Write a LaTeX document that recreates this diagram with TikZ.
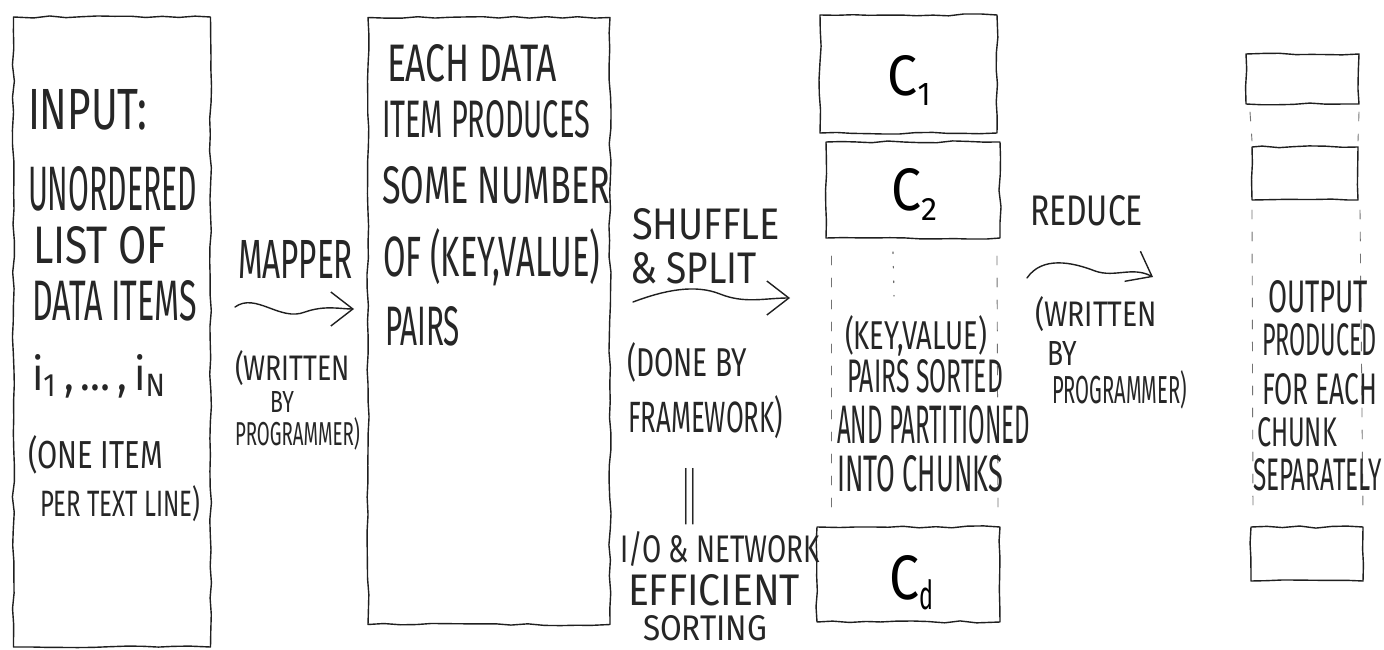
\documentclass[tikz,border=0pt]{standalone}
\usepackage{fontspec}
\usepackage{graphicx}
\setmainfont{Fira Sans}
\usetikzlibrary{arrows.meta,decorations.pathmorphing,calc}

% a word written at a fixed width and cap height
\newcommand{\handword}[3]{\resizebox{#1pt}{#2pt}{#3}}

\begin{document}
\begin{tikzpicture}[x=1pt,y=-1pt,
  ink/.style={draw=black!88, line width=1.4pt, line join=round, line cap=round},
  sketchbox/.style={ink, rectangle, inner sep=0pt, outer sep=0pt,
    decorate, decoration={random steps, segment length=16pt, amplitude=1.1pt}},
  handtext/.style={inner sep=0pt, outer sep=0pt, anchor=base west, text=black!85},
  flow/.style={ink, -{Straight Barb[length=22pt,width=34pt,line width=1.4pt]}},
  faint/.style={draw=black!55, line width=0.9pt, line cap=round, dash pattern=on 9pt off 13pt},
  dots/.style={draw=black!60, line width=1.2pt, line cap=round, dash pattern=on 1.5pt off 13pt},
]
\pgfmathsetseed{11}
\fill[white] (0,0) rectangle (1384,650);
\useasboundingbox (0,0) rectangle (1384,650);

% ---------- input list ----------
\node[sketchbox, minimum width=197pt, minimum height=630pt] (input) at (112,332) {};
\node[handtext] (in1) at (28,130) {\handword{119}{40}{INPUT:}};
\node[handtext] (in2) at (28,210) {\handword{169}{44}{UNORDERED}};
\node[handtext] (in3) at (33,263) {\handword{134}{37}{LIST OF}};
\node[handtext] (in4) at (32,320) {\handword{165}{40}{DATA ITEMS}};
\node[handtext] (in5) at (32,390) {\handword{135}{36}{i\textsubscript{1}\,,\,\ldots\,,\,i\textsubscript{N}}};
\node[handtext] (in6) at (28,468) {\handword{135}{33}{(ONE ITEM}};
\node[handtext] (in7) at (40,516) {\handword{160}{31}{PER TEXT LINE)}};

% ---------- mapper ----------
\node[handtext] (map1) at (238,278) {\handword{115}{38}{MAPPER}};
\coordinate (mapA) at (235,307);
\coordinate (mapB) at (354,309);
\draw[flow] (mapA) .. controls (256,292) and (280,322) .. (305,312)
                   .. controls (325,305) and (340,309) .. (mapB);
\node[handtext] (map2) at (235,380) {\handword{115}{30}{(WRITTEN}};
\node[handtext] (map3) at (270,412) {\handword{24}{21}{BY}};
\node[handtext] (map4) at (235,445) {\handword{125}{28}{PROGRAMMER)}};

% ---------- key/value pairs ----------
\node[sketchbox, minimum width=242pt, minimum height=607pt] (pairs) at (489,321) {};
\node[handtext] (kv1) at (387,82) {\handword{170}{37}{EACH DATA}};
\node[handtext] (kv2) at (382,138) {\handword{208}{37}{ITEM PRODUCES}};
\node[handtext] (kv3) at (382,203) {\handword{228}{37}{SOME NUMBER}};
\node[handtext] (kv4) at (383,276) {\handword{217}{48}{OF (KEY,VALUE)}};
\node[handtext] (kv5) at (385,345) {\handword{75}{39}{PAIRS}};

% ---------- shuffle & split ----------
\node[handtext] (sh1) at (632,239) {\handword{148}{31}{SHUFFLE}};
\node[handtext] (sh2) at (630,283) {\handword{127}{31}{\& SPLIT}};
\coordinate (shA) at (633,302);
\coordinate (shB) at (790,298);
\draw[flow] (shA) .. controls (665,290) and (695,284) .. (720,294)
                  .. controls (745,304) and (765,298) .. (shB);
\node[handtext] (sh3) at (627,376) {\handword{120}{34}{(DONE BY}};
\node[handtext] (sh4) at (628,432) {\handword{155}{37}{FRAMEWORK)}};
\node[handtext] (sh5) at (682,518) {\handword{15}{50}{||}};
\node[handtext] (sh6) at (620,562) {\handword{200}{31}{I/O \& NETWORK}};
\node[handtext] (sh7) at (628,605) {\handword{172}{31}{EFFICIENT}};
\node[handtext] (sh8) at (643,640) {\handword{124}{25}{SORTING}};

% ---------- sorted chunks ----------
\node[sketchbox, minimum width=177pt, minimum height=118pt] (c1) at (908.5,74) {};
\node[sketchbox, minimum width=174pt, minimum height=96pt] (c2) at (913,190) {};
\node[sketchbox, minimum width=183pt, minimum height=95pt] (cd) at (908.5,574.5) {};
\node[inner sep=0pt] (c1t) at (909,80) {\handword{30}{40}{C}\raisebox{-10pt}{\handword{13}{22}{1}}};
\node[inner sep=0pt] (c2t) at (914,194) {\handword{30}{42}{C}\raisebox{-10pt}{\handword{16}{22}{2}}};
\node[inner sep=0pt] (cdt) at (911,583) {\handword{30}{44}{C}\raisebox{-10pt}{\handword{14}{30}{d}}};
\draw[faint] ($(c2.south west)+(5,18)$) -- ($(cd.north west)+(14,-14)$);
\draw[faint] ($(c2.south east)+(-3,18)$) -- ($(cd.north east)+(-2,-14)$);
\draw[dots] ($(c2.south)+(-20,14)$) -- ($(c2.south)+(-19,58)$);
\node[handtext] (ck1) at (845,349) {\handword{142}{34}{(KEY,VALUE)}};
\node[handtext] (ck2) at (847,392) {\handword{156}{33}{PAIRS SORTED}};
\node[handtext] (ck3) at (837,443) {\handword{193}{38}{AND PARTITIONED}};
\node[handtext] (ck4) at (837,491) {\handword{166}{36}{INTO CHUNKS}};

% ---------- reduce ----------
\node[handtext] (rd1) at (1030,225) {\handword{113}{30}{REDUCE}};
\coordinate (rdA) at (1027,278);
\coordinate (rdB) at (1153,277);
\draw[flow] (rdA) .. controls (1042,256) and (1072,262) .. (1095,271)
                  .. controls (1115,278) and (1132,266) .. (rdB);
\node[handtext] (rd2) at (1035,326) {\handword{122}{30}{(WRITTEN}};
\node[handtext] (rd3) at (1047,365) {\handword{30}{24}{BY}};
\node[handtext] (rd4) at (1052,403) {\handword{135}{33}{PROGRAMMER)}};

% ---------- output per chunk ----------
\node[sketchbox, minimum width=113pt, minimum height=50pt] (o1) at (1302.5,79) {};
\node[sketchbox, minimum width=106pt, minimum height=53pt] (o2) at (1305,173.5) {};
\node[sketchbox, minimum width=112pt, minimum height=54pt] (o3) at (1307,554) {};
\draw[faint] ($(o1.south west)+(4,8)$) -- ($(o2.north west)+(0,-6)$);
\draw[faint] ($(o1.south east)+(0,8)$) -- ($(o2.north east)+(0,-6)$);
\draw[faint] ($(o2.south west)+(0,10)$) -- ($(o3.north west)+(2,-10)$);
\draw[faint] ($(o2.south east)+(2,10)$) -- ($(o3.north east)+(0,-10)$);
\node[handtext] (out1) at (1268,312) {\handword{100}{32}{OUTPUT}};
\node[handtext] (out2) at (1262,355) {\handword{115}{32}{PRODUCED}};
\node[handtext] (out3) at (1262,404) {\handword{115}{31}{FOR EACH}};
\node[handtext] (out4) at (1257,446) {\handword{80}{29}{CHUNK}};
\node[handtext] (out5) at (1253,490) {\handword{129}{32}{SEPARATELY}};
\end{tikzpicture}
\end{document}
